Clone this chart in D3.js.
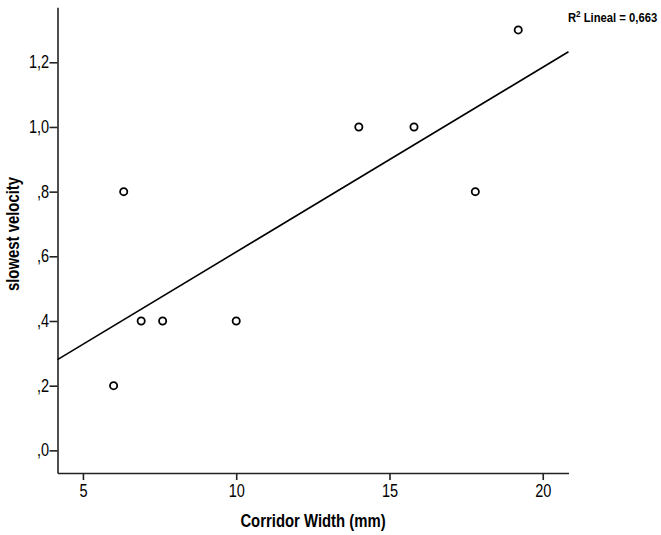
<!DOCTYPE html>
<html>
<head>
<meta charset="utf-8">
<script src="https://cdn.jsdelivr.net/npm/d3@7"></script>
<style>
  html, body { margin: 0; padding: 0; background: #fff; }
  svg { display: block; }
  text { font-family: "Liberation Sans", Arial, sans-serif; fill: #000; }
</style>
</head>
<body>
<script>
// ---- data ----
const corridorWidth = [6.0, 6.33, 6.9, 7.6, 10.0, 14.0, 15.8, 17.8, 19.2];
const slowestVelocity = [0.2, 0.8, 0.4, 0.4, 0.4, 1.0, 1.0, 0.8, 1.3];
const xTicks = [5, 10, 15, 20];
const yTicks = [0, 0.2, 0.4, 0.6, 0.8, 1.0, 1.2];
const xDomain = [4.17, 20.84];
const yDomain = [-0.07, 1.37];
const xTitle = "Corridor Width (mm)";
const yTitle = "slowest velocity";
const r2Label = "0,663";

const W = 661, H = 535;
const svg = d3.select("body").append("svg").attr("width", W).attr("height", H);

const x = d3.scaleLinear().domain(xDomain).range([57.5, 568.5]);
const y = d3.scaleLinear().domain(yDomain).range([473, 7.3]);

const fmtY = v => d3.format(".1f")(v).replace(/^0/, "").replace(".", ",");

// axes
const xAxis = svg.append("g").attr("transform", "translate(0,473)")
  .call(d3.axisBottom(x).tickValues(xTicks).tickSize(7).tickPadding(5).tickSizeOuter(0));
const yAxis = svg.append("g").attr("transform", "translate(57.5,0)")
  .call(d3.axisLeft(y).tickValues(yTicks).tickFormat(fmtY).tickSize(8).tickPadding(2).tickSizeOuter(0));

[xAxis, yAxis].forEach(g => {
  g.select(".domain").attr("stroke", "#222").attr("stroke-width", 1.6);
  g.selectAll(".tick line").attr("stroke", "#222").attr("stroke-width", 1.6);
  g.selectAll(".tick text").attr("font-size", 17.5).attr("fill", "#111")
    .style("font-family", "'Liberation Sans', Arial, sans-serif")
    .attr("transform", "scale(0.83,1)");
});

// regression line (least squares from the data)
const n = corridorWidth.length;
const mx = d3.mean(corridorWidth), my = d3.mean(slowestVelocity);
let sxy = 0, sxx = 0;
for (let i = 0; i < n; i++) {
  sxy += (corridorWidth[i] - mx) * (slowestVelocity[i] - my);
  sxx += (corridorWidth[i] - mx) ** 2;
}
const slope = sxy / sxx, intercept = my - slope * mx;
svg.append("line")
  .attr("x1", x(xDomain[0])).attr("y1", y(intercept + slope * xDomain[0]))
  .attr("x2", x(xDomain[1])).attr("y2", y(intercept + slope * xDomain[1]))
  .attr("stroke", "#000").attr("stroke-width", 1.6);

// points
svg.append("g").selectAll("circle")
  .data(corridorWidth.map((d, i) => [d, slowestVelocity[i]]))
  .join("circle")
  .attr("cx", d => x(d[0])).attr("cy", d => y(d[1]))
  .attr("r", 3.6)
  .attr("fill", "#fff").attr("stroke", "#000").attr("stroke-width", 1.8);

// axis titles
svg.append("text")
  .attr("transform", `translate(${(57.5 + 568.5) / 2 + 0},527) scale(0.85,1)`)
  .attr("text-anchor", "middle").attr("font-size", 17.5).attr("font-weight", "bold")
  .text(xTitle);

svg.append("text")
  .attr("transform", "translate(19,234) rotate(-90) scale(0.85,1)")
  .attr("text-anchor", "middle").attr("font-size", 17.5).attr("font-weight", "bold")
  .text(yTitle);

// R² annotation
const r2 = svg.append("text").attr("transform", "translate(568,22) scale(0.9,1)")
  .attr("font-size", 12.5).attr("font-weight", "bold");
r2.append("tspan").text("R");
r2.append("tspan").attr("font-size", 9).attr("dy", -5).text("2");
r2.append("tspan").attr("dy", 5).text(" Lineal = " + r2Label);
</script>
</body>
</html>
